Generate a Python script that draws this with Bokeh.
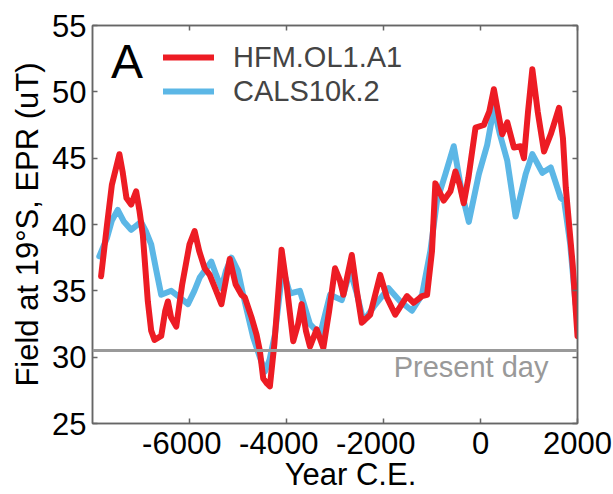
from bokeh.plotting import figure
from bokeh.models import Span, Label, Legend, LegendItem, LinearAxis, FixedTicker, Range1d
from bokeh.embed import file_html
from bokeh.resources import INLINE

# ---- data ----
red_year = [-7823, -7700, -7600, -7445, -7380, -7300, -7204, -7100, -7030, -6962, -6859,
            -6790, -6721, -6583, -6500, -6445, -6380, -6273, -6150, -6000, -5894, -5800,
            -5687, -5583, -5450, -5342, -5250, -5170, -5050, -4928, -4859, -4721, -4618,
            -4550, -4480, -4400, -4343, -4250, -4101, -4000, -3861, -3760, -3688, -3600,
            -3516, -3378, -3240, -3120, -2999, -2900, -2827, -2654, -2550, -2447, -2275,
            -2068, -1930, -1758, -1516, -1378, -1206, -1102, -1000, -931, -758, -620,
            -517, -430, -345, -250, -103, 69, 180, 276, 360, 448, 552, 689, 827, 896,
            980, 1069, 1180, 1310, 1448, 1620, 1700, 1758, 1900, 2000]
red_field = [36.1, 40.0, 43.0, 45.3, 44.0, 42.0, 41.5, 42.5, 41.0, 39.2, 34.2,
             32.0, 31.3, 31.6, 33.5, 34.2, 33.0, 32.3, 35.5, 38.5, 39.5, 38.0,
             36.7, 36.2, 35.0, 34.0, 35.8, 37.4, 35.5, 34.7, 34.5, 33.0, 31.7,
             30.5, 28.4, 28.0, 27.8, 31.0, 38.1, 35.5, 31.2, 32.5, 34.0, 32.0,
             30.8, 32.1, 30.7, 33.5, 36.7, 35.8, 34.7, 37.7, 35.0, 32.6, 33.2,
             36.2, 34.5, 33.2, 34.6, 34.1, 34.6, 34.7, 38.0, 43.1, 41.8, 42.5,
             44.0, 43.0, 41.6, 43.5, 47.3, 47.5, 48.5, 50.2, 48.5, 46.8, 47.7, 45.8, 45.9, 45.0,
             48.5, 51.7, 48.5, 45.5, 46.8, 48.8, 46.5, 42.8, 37.0, 31.6]

blue_year = [-7860, -7700, -7600, -7480, -7350, -7204, -7000, -6900, -6790, -6683, -6583,
             -6376, -6200, -6032, -5900, -5790, -5549, -5450, -5342, -5250, -5135, -5000,
             -4894, -4687, -4550, -4446, -4350, -4239, -4080, -3930, -3723, -3516, -3309,
             -3102, -2861, -2688, -2550, -2413, -2200, -1896, -1654, -1413, -1206, -1034,
             -896, -724, -551, -379, -241, -34, 138, 276, 400, 552, 724, 931, 1069, 1276,
             1448, 1655, 1724, 1850, 1960]
blue_field = [37.6, 39.0, 40.3, 41.1, 40.2, 39.6, 40.2, 39.5, 38.5, 36.5, 34.7,
              35.0, 34.5, 34.0, 35.0, 36.0, 37.2, 36.2, 35.2, 36.5, 37.5, 36.5,
              34.7, 31.5, 30.0, 28.9, 29.8, 31.7, 36.7, 34.8, 35.0, 32.5, 31.7,
              34.7, 34.3, 36.5, 34.8, 32.7, 33.8, 35.2, 34.2, 33.5, 34.7, 38.0,
              41.8, 43.8, 45.9, 42.3, 40.2, 43.8, 46.0, 48.8, 46.8, 44.8, 40.6, 43.8, 45.3, 43.9,
              44.3, 42.0, 41.8, 38.5, 34.0]

x_ticks = [-6000, -4000, -2000, 0, 2000]
x_tick_labels = ["-6000\u2002", "-4000\u2002", "-2000\u2002", "0", "2000"]
y_ticks = [25, 30, 35, 40, 45, 50, 55]
present_day = 30.5

FONT = "Liberation Sans"
RED = "#ED1C24"
BLUE = "#5CB7E6"
FRAME = "#666666"

p = figure(width=613, height=494, output_backend="svg", toolbar_location=None,
           x_range=Range1d(-8000, 2000), y_range=Range1d(25, 55),
           min_border_left=92, min_border_right=36, min_border_top=25,
           min_border_bottom=71, background_fill_color="white",
           border_fill_color="white")
p.xgrid.visible = False
p.ygrid.visible = False
p.outline_line_color = FRAME
p.outline_line_width = 1.5

for ax, ticks in ((p.xaxis[0], x_ticks), (p.yaxis[0], y_ticks)):
    ax.ticker = FixedTicker(ticks=ticks)
    ax.major_tick_in = 5
    ax.major_tick_out = 0
    ax.minor_tick_line_color = None
    ax.axis_line_color = FRAME
    ax.axis_line_width = 1.5
    ax.major_tick_line_color = FRAME
    ax.major_tick_line_width = 1.5
    ax.major_label_text_font = FONT
    ax.major_label_text_font_size = "31px"
    ax.major_label_text_color = "black"
    ax.axis_label_text_font = FONT
    ax.axis_label_text_font_size = "31px"
    ax.axis_label_text_font_style = "normal"
    ax.axis_label_text_color = "black"

p.xaxis[0].major_label_overrides = {t: s for t, s in zip(x_ticks, x_tick_labels)}
p.xaxis[0].axis_label = "\u2003Year C.E."
p.yaxis[0].axis_label = "Field at 19°S, EPR (uT)"
p.xaxis[0].major_label_standoff = 2
p.xaxis[0].axis_label_standoff = -7
p.yaxis[0].major_label_standoff = 6
p.yaxis[0].axis_label_standoff = 4

for loc, ticks in (("above", x_ticks), ("right", y_ticks)):
    ax = LinearAxis(ticker=FixedTicker(ticks=ticks), major_tick_in=5, major_tick_out=0,
                    minor_tick_line_color=None, axis_line_color=FRAME, axis_line_width=1.5,
                    major_tick_line_color=FRAME, major_tick_line_width=1.5,
                    major_label_overrides={t: "" for t in ticks},
                    major_label_text_font_size="8px", major_label_standoff=0)
    p.add_layout(ax, loc)

p.add_layout(Span(location=present_day, dimension="width", line_color="#999999",
                  line_width=3))
p.add_layout(Label(x=1400, y=29.25, text="Present day", text_align="right",
                   text_baseline="alphabetic", text_font=FONT, text_font_size="29px",
                   text_color="#999999"))

blue = p.line(blue_year, blue_field, line_color=BLUE, line_width=6, line_join="round",
              line_cap="round")
red = p.line(red_year, red_field, line_color=RED, line_width=6, line_join="round",
             line_cap="round")

legend = Legend(items=[LegendItem(label="HFM.OL1.A1", renderers=[red]),
                       LegendItem(label="CALS10k.2", renderers=[blue])],
                location=(71, 315), border_line_color=None, background_fill_alpha=0,
                label_text_font=FONT, label_text_font_size="29px", glyph_width=51,
                glyph_height=34, label_height=34, label_standoff=19, spacing=0,
                padding=0, margin=0)
p.add_layout(legend, "center")

p.add_layout(Label(x=-7620, y=52.3, text="A", text_baseline="alphabetic",
                   text_font=FONT, text_font_size="48px", text_color="black"))

open("out.html", "w").write(file_html(p, INLINE))
